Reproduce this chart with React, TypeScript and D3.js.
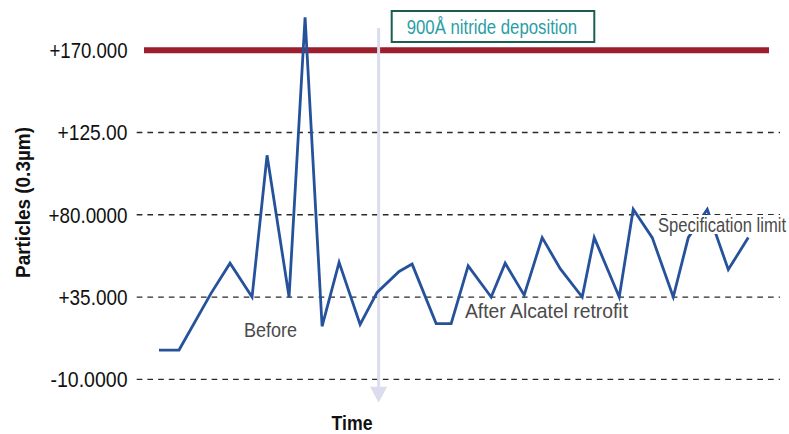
import React from "react";
import * as d3 from "d3";

const W = 789;
const H = 434;

// Sampling times (arbitrary units along the time axis) and particle counts
const times = [
  0, 20, 52, 71, 93, 108, 130, 146, 163, 180, 201, 218, 240, 253, 277, 292,
  309, 332, 346, 365, 383, 401, 423, 435, 460, 474, 493, 514, 529, 548, 569, 589,
];
const particles = [
  6, 6, 37, 53.5, 35, 112.5, 35, 188, 19, 54, 20, 37.5, 49, 53, 20.5, 20.5,
  52, 35, 53.5, 36, 67.5, 50.5, 35, 67.5, 35, 83, 67.5, 35, 67.5, 83, 50, 67.5,
];

const gridValues = [-10, 35, 80, 125];
const tickValues = [170, 125, 80, 35, -10];
const tickLabels = ["+170.000", "+125.00", "+80.0000", "+35.000", "-10.0000"];
const tickWidths = [78, 70, 79, 69, 77];
const specLimit = 170;
const depositionTime = 219.5;

const FONT = "'Liberation Sans', Arial, sans-serif";

type LabelProps = {
  x: number;
  y: number;
  w: number;
  size: number;
  fill: string;
  bold?: boolean;
  children: string;
};

// Condensed-looking text: glyphs squeezed to a fixed advance width
function Label({ x, y, w, size, fill, bold, children }: LabelProps) {
  return (
    <text
      x={x}
      y={y}
      textLength={w}
      lengthAdjust="spacingAndGlyphs"
      fontFamily={FONT}
      fontSize={size}
      fontWeight={bold ? "bold" : "normal"}
      fill={fill}
    >
      {children}
    </text>
  );
}

export default function App() {
  const x = d3.scaleLinear().domain([0, 589]).range([159, 748.3]);
  const y = d3.scaleLinear().domain([-10, 170]).range([379.3, 50.2]);

  const pts: [number, number][] = times.map((t, i) => [t, particles[i]]);
  const line = d3
    .line<[number, number]>()
    .x((d) => x(d[0]))
    .y((d) => y(d[1]));

  const ax = x(depositionTime);

  return (
    <svg
      width={W}
      height={H}
      style={{ position: "absolute", left: 0, top: 0, background: "#fff" }}
    >
      {/* dashed grid */}
      {gridValues.map((v) => (
        <line
          key={v}
          x1={136.7}
          x2={780}
          y1={y(v)}
          y2={y(v)}
          stroke="#2a2a2a"
          strokeWidth={1.3}
          strokeDasharray="5.7 5"
        />
      ))}

      {/* tick labels */}
      {tickValues.map((v, i) => (
        <Label
          key={v}
          x={127.5 - tickWidths[i]}
          y={y(v) + 8}
          w={tickWidths[i]}
          size={21.5}
          fill="#111"
        >
          {tickLabels[i]}
        </Label>
      ))}

      {/* specification limit */}
      <line
        x1={144}
        x2={769}
        y1={y(specLimit)}
        y2={y(specLimit)}
        stroke="#9c1f2e"
        strokeWidth={6}
      />

      {/* deposition marker arrow */}
      <line x1={ax} x2={ax} y1={28} y2={388} stroke="#dcdcef" strokeWidth={3} />
      <polygon
        points={`${ax - 8.5},386.7 ${ax + 8.5},386.7 ${ax},402.7`}
        fill="#dcdcef"
      />

      {/* particle counts */}
      <path
        d={line(pts) ?? ""}
        fill="none"
        stroke="#25529b"
        strokeWidth={2.8}
      />

      {/* annotation box */}
      <rect
        x={391.7}
        y={11}
        width={202.6}
        height={31}
        fill="#fff"
        stroke="#1b5e50"
        strokeWidth={2}
      />
      <Label x={406.7} y={34.3} w={170.5} size={20} fill="#2a9ea6">
        900Å nitride deposition
      </Label>

      {/* region labels */}
      <Label x={244} y={336.7} w={53} size={21} fill="#4a4a4a">
        Before
      </Label>
      <Label x={465} y={318.3} w={163} size={20.5} fill="#4a4a4a">
        After Alcatel retrofit
      </Label>
      <rect x={656} y={215} width={133} height={19} fill="#fff" />
      <Label x={658} y={231.5} w={128} size={20.5} fill="#4a4a4a">
        Specification limit
      </Label>

      {/* axis titles */}
      <g transform="translate(29.5,278) rotate(-90)">
        <Label x={0} y={0} w={151} size={21} fill="#111" bold>
          Particles (0.3µm)
        </Label>
      </g>
      <Label x={331.5} y={430} w={41} size={21} fill="#111" bold>
        Time
      </Label>
    </svg>
  );
}
